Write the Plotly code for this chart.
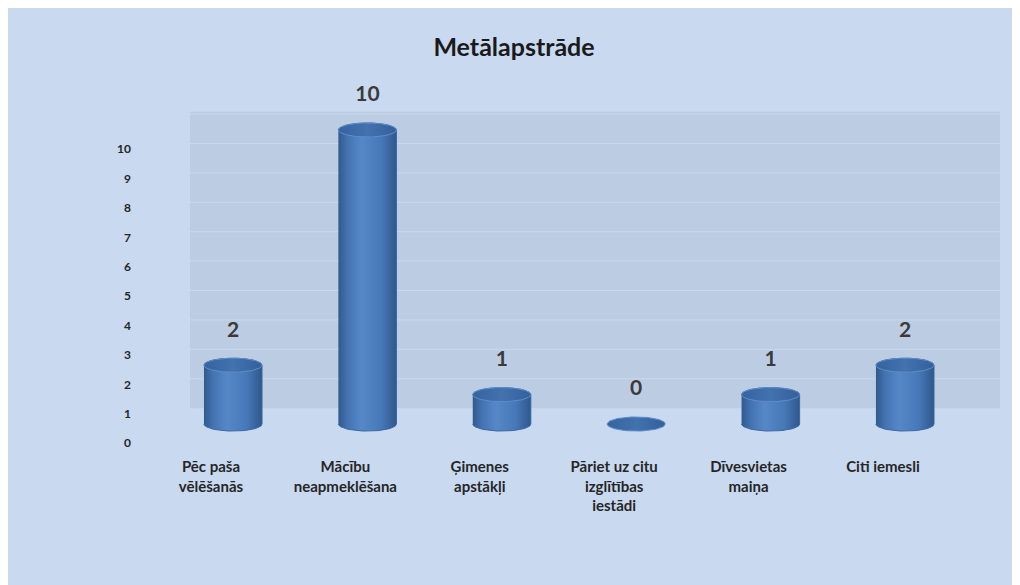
import numpy as np
import plotly.graph_objects as go

# data
reasons = ["Pēc paša<br>vēlēšanās", "Mācību<br>neapmeklēšana", "Ģimenes<br>apstākļi",
           "Pāriet uz citu<br>izglītības<br>iestādi", "Dīvesvietas<br>maiņa", "Citi iemesli"]
counts = [2, 10, 1, 0, 1, 2]
y_ticks = list(range(0, 11))

# look
BG = "#c8d9f0"
WALL = "#bccde3"
GRID = "#cad8eb"
TXT = "#262626"
FONT = "Lato"

idx = np.arange(len(counts))
rx, ry = 0.216, 0.24          # cylinder radii in axis units
depth = 0.54                  # 3d offset of the back wall
label_depth = 0.65            # y tick labels sit in front of the floor
label_shift = 0.164           # category labels sit left of the bars

fig = go.Figure()

# back wall + its gridlines
fig.add_shape(type="rect", xref="x", yref="y", x0=-0.32, x1=5.707, y0=depth, y1=depth + 10.08,
              fillcolor=WALL, line_width=0, layer="below")
for k in y_ticks[1:]:
    fig.add_shape(type="line", xref="x", yref="y", x0=-0.32, x1=5.707, y0=depth + k, y1=depth + k,
                  line=dict(color=GRID, width=1), layer="below")

body_scale = [[0, "#30598f"], [0.15, "#4372b0"], [0.4, "#5688c8"], [0.75, "#4677b6"], [1, "#2f578c"]]
cap_scale = [[0, "#35639e"], [0.5, "#4272af"], [1, "#34609a"]]

up = np.linspace(np.pi, 0, 40)
down = np.linspace(0, -np.pi, 40)
ring = np.linspace(0, 2 * np.pi, 80)

for i, v in zip(idx, counts):
    if v > 0:
        bx = np.concatenate([i + rx * np.cos(up), i + rx * np.cos(down)])
        by = np.concatenate([v + ry * np.sin(up), ry * np.sin(down)])
        fig.add_trace(go.Scatter(x=bx, y=by, mode="lines", fill="toself",
                                 fillgradient=dict(type="horizontal", colorscale=body_scale),
                                 line=dict(color="#3a67a3", width=1), hoverinfo="skip", showlegend=False))
    fig.add_trace(go.Scatter(x=i + rx * np.cos(ring), y=v + ry * np.sin(ring), mode="lines", fill="toself",
                             fillgradient=dict(type="horizontal", colorscale=cap_scale),
                             line=dict(color="#5d8dcb", width=1), hoverinfo="skip", showlegend=False))

# value labels
fig.add_trace(go.Scatter(x=idx, y=np.array(counts) + 1.15, mode="text", text=[str(c) for c in counts],
                         textfont=dict(family=FONT, size=21, color="#3a3a3a", weight="bold"),
                         hoverinfo="skip", showlegend=False, cliponaxis=False))

# the page puts the figure 8px in from the top-left corner, which gives the white border
W, H = 1012, 577
L, R, T, B = 132, 20, 77, 135

fig.update_layout(
    width=W, height=H,
    margin=dict(l=L, r=R, t=T, b=B),
    paper_bgcolor=BG,
    plot_bgcolor="rgba(0,0,0,0)",
    title=dict(text="Metālapstrāde", x=0.5, xanchor="center", y=1 - 39 / H, yanchor="middle",
               font=dict(family=FONT, size=25, color="#1a1a1a", weight="bold")),
    xaxis=dict(range=[-0.692, 5.707], tickmode="array", tickvals=idx - label_shift, ticktext=reasons,
               showgrid=False, zeroline=False, showline=False, ticks="", ticklabelstandoff=6,
               tickfont=dict(family=FONT, size=15, color=TXT, weight="bold")),
    yaxis=dict(range=[-0.884, 11.53], tickmode="array", tickvals=np.array(y_ticks) - label_depth,
               ticktext=[str(t) for t in y_ticks], showgrid=False, zeroline=False, showline=False,
               ticks="", ticklabelstandoff=8,
               tickfont=dict(family=FONT, size=12, color=TXT, weight="bold")),
    showlegend=False,
)

fig.write_html("out.html")
